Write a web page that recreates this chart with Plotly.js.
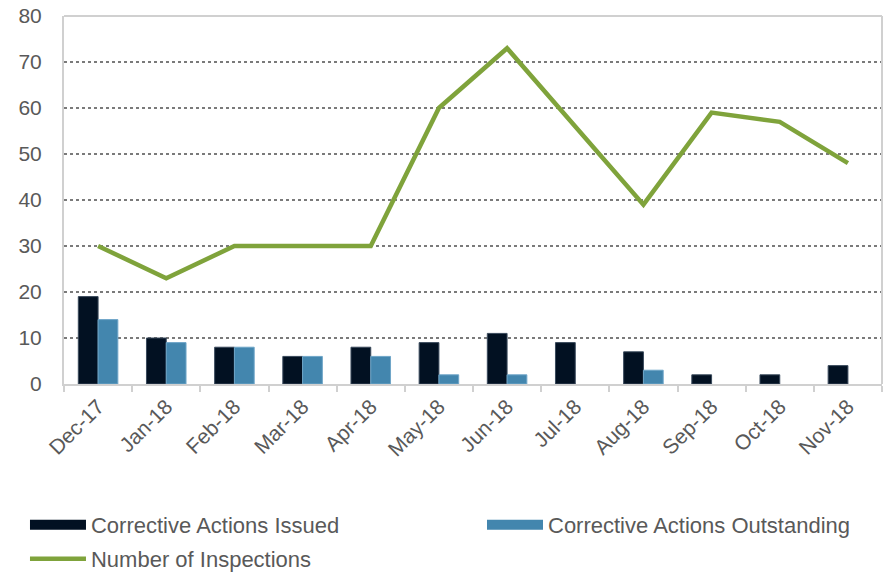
<!DOCTYPE html>
<html>
<head>
<meta charset="utf-8">
<script src="https://cdn.plot.ly/plotly-3.0.1.min.js"></script>
<style>html,body{margin:0;padding:0;background:#fff;}#chart{width:888px;height:580px;}</style>
</head>
<body>
<div id="chart"></div>
<script>
const months = ["Dec-17","Jan-18","Feb-18","Mar-18","Apr-18","May-18","Jun-18","Jul-18","Aug-18","Sep-18","Oct-18","Nov-18"];
const issued = [19,10,8,6,8,9,11,9,7,2,2,4];
const outstanding = [14,9,8,6,6,2,2,0,3,0,0,0];
const inspections = [30,23,30,30,30,60,73,56,39,59,57,48];

const FONT = "'Liberation Sans', Arial, sans-serif";
const C_ISSUED = "#021122", C_OUT = "#4386AE", C_INSP = "#7FA33B";
const hideZero = a => a.map(v => v === 0 ? null : v);

const traces = [
  {type:"bar", name:"Corrective Actions Issued", x:months, y:hideZero(issued), showlegend:false,
   marker:{color:C_ISSUED, line:{color:"#3a4a5c", width:1}}},
  {type:"bar", name:"Corrective Actions Outstanding", x:months, y:hideZero(outstanding), showlegend:false,
   marker:{color:C_OUT, line:{color:"#6fa6c8", width:1}}},
  {type:"scatter", mode:"lines", name:"Number of Inspections", x:months, y:inspections,
   line:{color:C_INSP, width:4.5}, legend:"legend3"},
  // legend swatches for the bar series
  {type:"scatter", mode:"lines", name:"Corrective Actions Issued", x:[null], y:[null],
   line:{color:C_ISSUED, width:14}, legend:"legend"},
  {type:"scatter", mode:"lines", name:"Corrective Actions Outstanding", x:[null], y:[null],
   line:{color:C_OUT, width:14}, legend:"legend2"}
];

const legCommon = {orientation:"v", font:{size:22, color:"#595959", family:FONT},
  itemwidth:56, bgcolor:"rgba(0,0,0,0)", xanchor:"left"};

const layout = {
  width:888, height:580,
  margin:{l:64, r:6, t:16, b:0},
  paper_bgcolor:"#fff", plot_bgcolor:"#fff",
  font:{family:FONT, color:"#595959", size:22},
  barmode:"group", bargap:0.42, bargroupgap:0,
  showlegend:true,
  xaxis:{type:"category", tickangle:-45, tickfont:{size:21, color:"#595959"},
    showline:true, linecolor:"#d0d0d0", linewidth:2, mirror:false, automargin:false,
    ticks:"outside", ticklen:6, tickcolor:"#d0d0d0", tickwidth:2, showgrid:false,
    tickson:"boundaries"},
  yaxis:{range:[0,80], dtick:10, domain:[0.3475,1], tickfont:{size:21, color:"#595959"}, automargin:false,
    showgrid:true, gridcolor:"#7a7a7a", griddash:"dot", gridwidth:1.5,
    showline:true, linecolor:"#d0d0d0", linewidth:2, zeroline:false,
    ticks:"", ticklabelstandoff:16},
  shapes:[
    {type:"line", xref:"x domain", yref:"y domain", x0:0, x1:1, y0:1, y1:1, line:{color:"#d0d0d0", width:2}},
    {type:"line", xref:"x domain", yref:"y domain", x0:1, x1:1, y0:0, y1:1, line:{color:"#d0d0d0", width:2}}
  ],
  legend:Object.assign({}, legCommon, {x:-0.0477, y:0.1348, yanchor:"top"}),
  legend2:Object.assign({}, legCommon, {x:0.511, y:0.1348, yanchor:"top"}),
  legend3:Object.assign({}, legCommon, {x:-0.0477, y:0, yanchor:"bottom"})
};

Plotly.newPlot("chart", traces, layout, {displayModeBar:false, staticPlot:true});
</script>
</body>
</html>
